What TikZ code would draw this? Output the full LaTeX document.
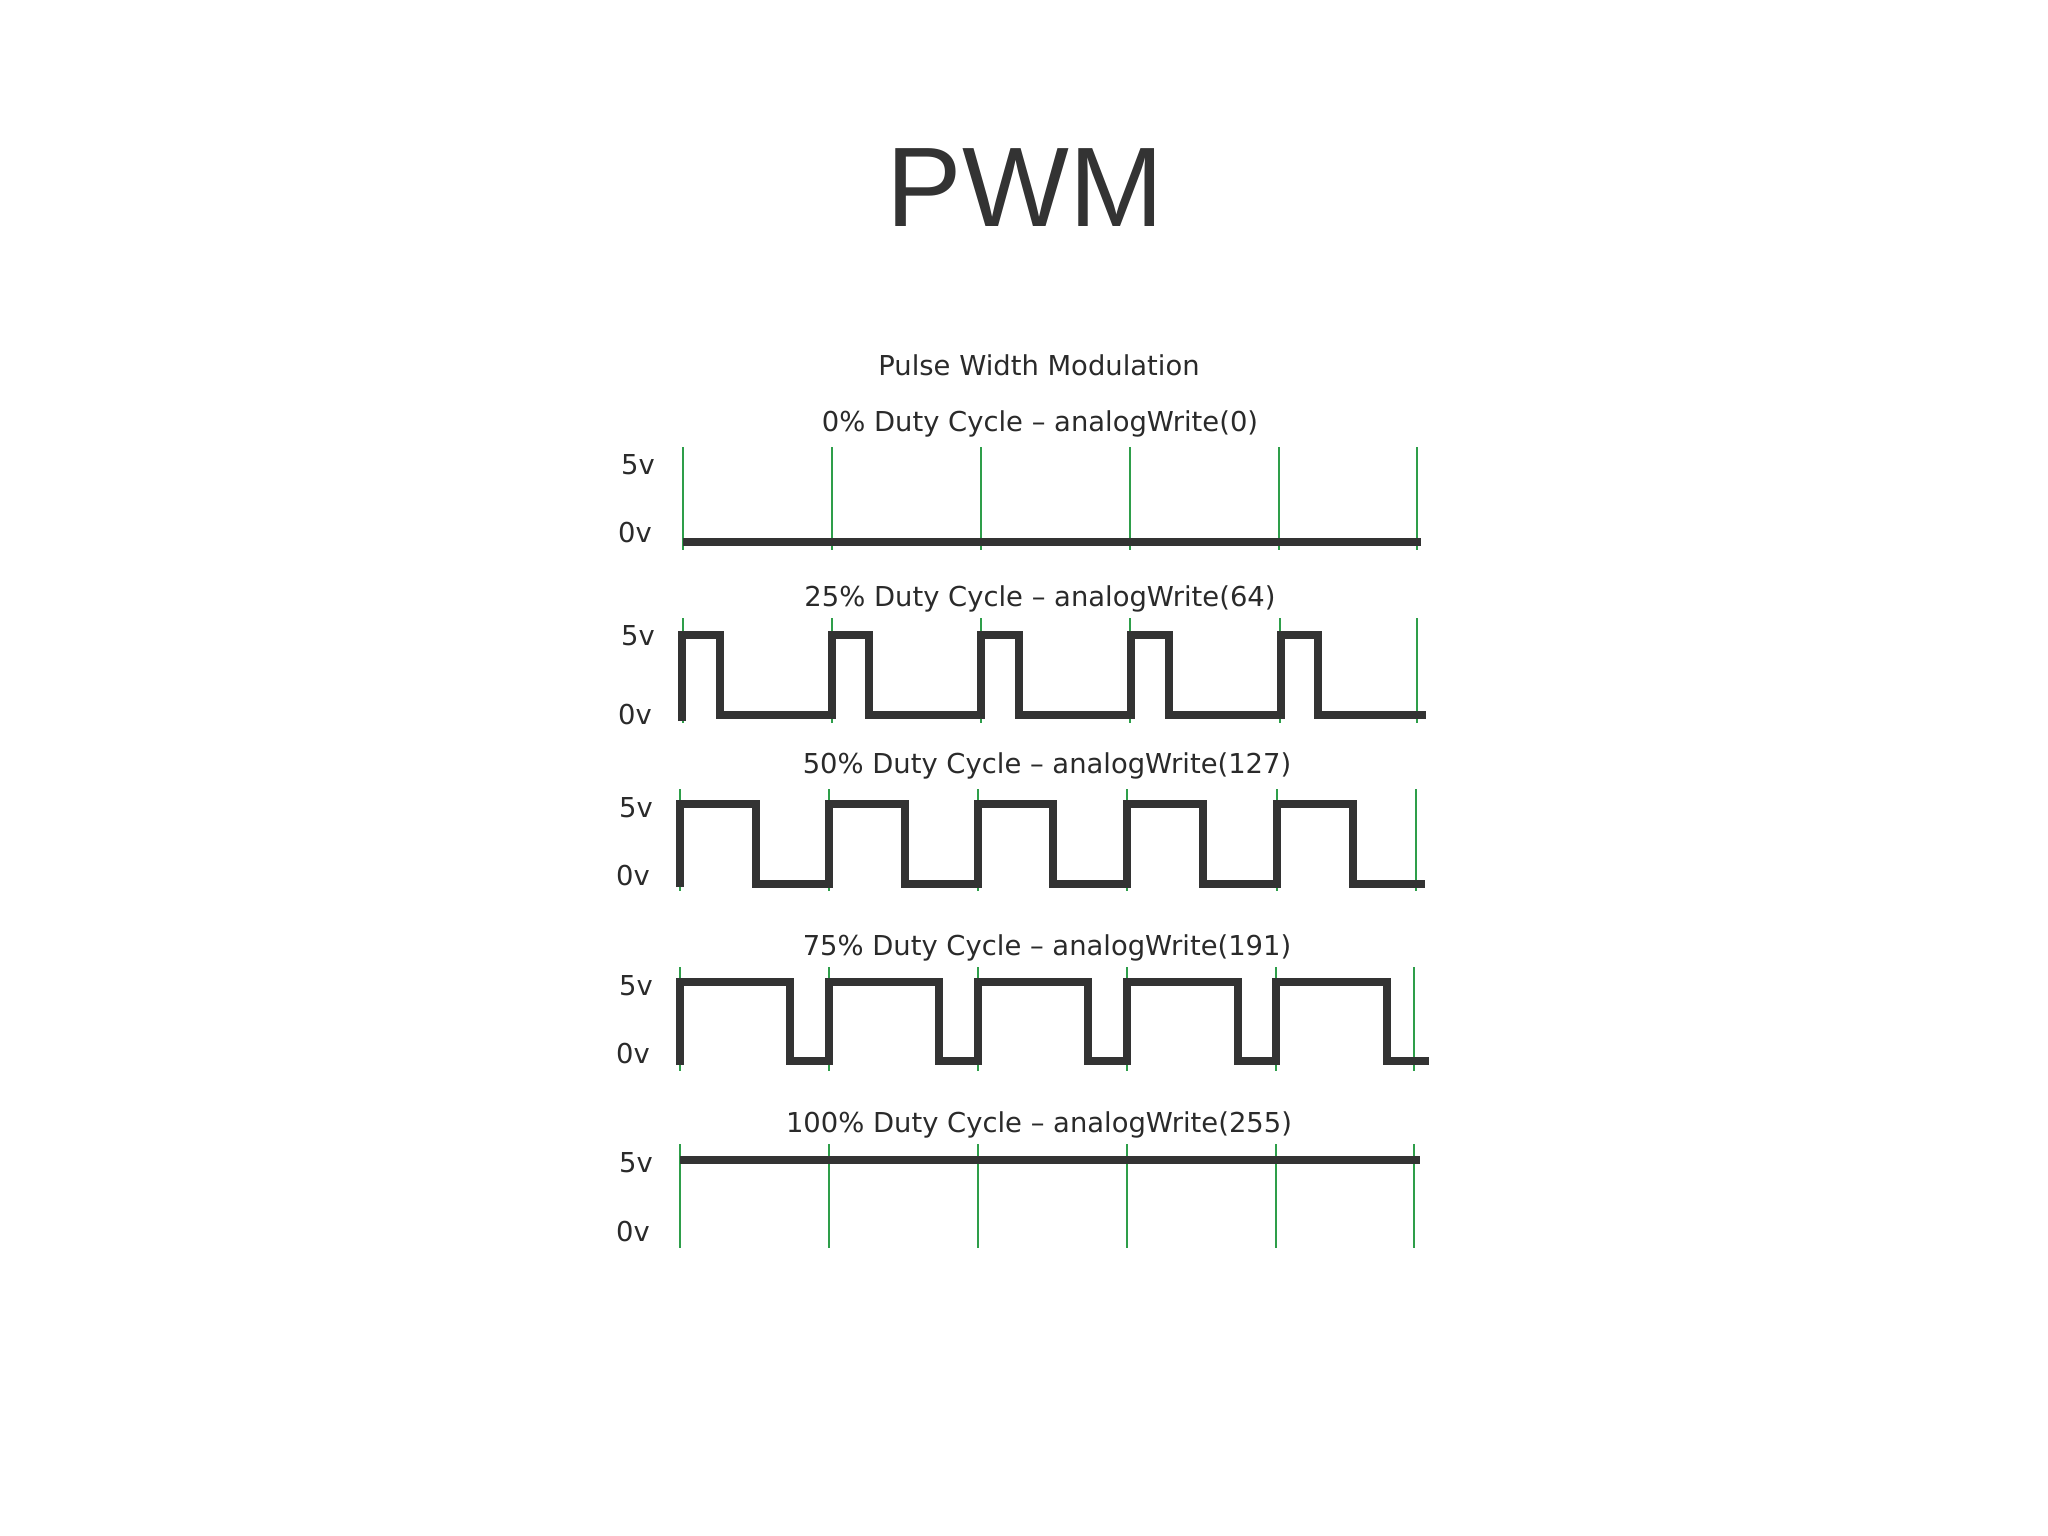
\documentclass[tikz,border=0pt]{standalone}
\usepackage{fontspec}
\setmainfont{DejaVu Sans}
\newfontfamily\headfont{Liberation Sans}
\tikzset{
  grid line/.style={draw=gridgreen,line width=1.2pt},
  wave/.style={draw=wavegray,line width=3.6pt,line join=miter},
  caption/.style={text=textgray,font=\fontsize{13.7}{16}\selectfont,inner sep=0pt},
  level/.style={text=textgray,font=\fontsize{13.7}{16}\selectfont,inner sep=0pt},
}
\definecolor{gridgreen}{HTML}{2E9E4A}
\definecolor{wavegray}{HTML}{333333}
\definecolor{textgray}{HTML}{2A2A2A}
\definecolor{headgray}{HTML}{333333}
\begin{document}
\begin{tikzpicture}[x=0.5pt,y=-0.5pt]
\useasboundingbox (0,0) rectangle (2048,1535);

% Headings
\node[text=headgray,font=\headfont\fontsize{56.6}{60}\selectfont,inner sep=0pt] (head) at (1025,188) {PWM};
\node[caption] (sub) at (1039,365) {Pulse Width Modulation};

% Panel 0%
\node[caption] (cap0) at (1040,424) {0\% Duty Cycle -- analogWrite(0)};
\node[level] (hi0) at (638,465) {5v};
\node[level] (lo0) at (635,533) {0v};
\foreach \x in {683,832,981,1130,1279,1417}
  \draw[grid line] (\x,447) -- (\x,550);
\draw[wave,line width=4pt] (683,542) -- (1421,542);

% Panel 25%
\node[caption] (cap25) at (1040,599) {25\% Duty Cycle -- analogWrite(64)};
\node[level] (hi25) at (638,636) {5v};
\node[level] (lo25) at (635,715) {0v};
\foreach \x in {683,832,981,1130,1280,1417}
  \draw[grid line] (\x,618) -- (\x,723);
\draw[wave] (682,721) -- (682,635) -- (720,635) -- (720,715) -- (832,715)
  -- (832,635) -- (869,635) -- (869,715) -- (981,715)
  -- (981,635) -- (1019,635) -- (1019,715) -- (1131,715)
  -- (1131,635) -- (1169,635) -- (1169,715) -- (1281,715)
  -- (1281,635) -- (1318,635) -- (1318,715) -- (1426,715);

% Panel 50%
\node[caption] (cap50) at (1047,766) {50\% Duty Cycle -- analogWrite(127)};
\node[level] (hi50) at (636,808) {5v};
\node[level] (lo50) at (633,876) {0v};
\foreach \x in {680,829,978,1127,1277,1416}
  \draw[grid line] (\x,789) -- (\x,891);
\draw[wave] (680,887) -- (680,804) -- (756,804) -- (756,884) -- (829,884)
  -- (829,804) -- (905,804) -- (905,884) -- (978,884)
  -- (978,804) -- (1053,804) -- (1053,884) -- (1127,884)
  -- (1127,804) -- (1203,804) -- (1203,884) -- (1277,884)
  -- (1277,804) -- (1353,804) -- (1353,884) -- (1425,884);

% Panel 75%
\node[caption] (cap75) at (1047,948) {75\% Duty Cycle -- analogWrite(191)};
\node[level] (hi75) at (636,986) {5v};
\node[level] (lo75) at (633,1054) {0v};
\foreach \x in {680,829,978,1127,1276,1414}
  \draw[grid line] (\x,967) -- (\x,1071);
\draw[wave] (680,1065) -- (680,982) -- (790,982) -- (790,1061) -- (829,1061)
  -- (829,982) -- (939,982) -- (939,1061) -- (978,1061)
  -- (978,982) -- (1088,982) -- (1088,1061) -- (1127,1061)
  -- (1127,982) -- (1238,982) -- (1238,1061) -- (1276,1061)
  -- (1276,982) -- (1387,982) -- (1387,1061) -- (1429,1061);

% Panel 100%
\node[caption] (cap100) at (1039,1125) {100\% Duty Cycle -- analogWrite(255)};
\node[level] (hi100) at (636,1163) {5v};
\node[level] (lo100) at (633,1232) {0v};
\foreach \x in {680,829,978,1127,1276,1414}
  \draw[grid line] (\x,1144) -- (\x,1248);
\draw[wave] (680,1160) -- (1420,1160);
\end{tikzpicture}
\end{document}
